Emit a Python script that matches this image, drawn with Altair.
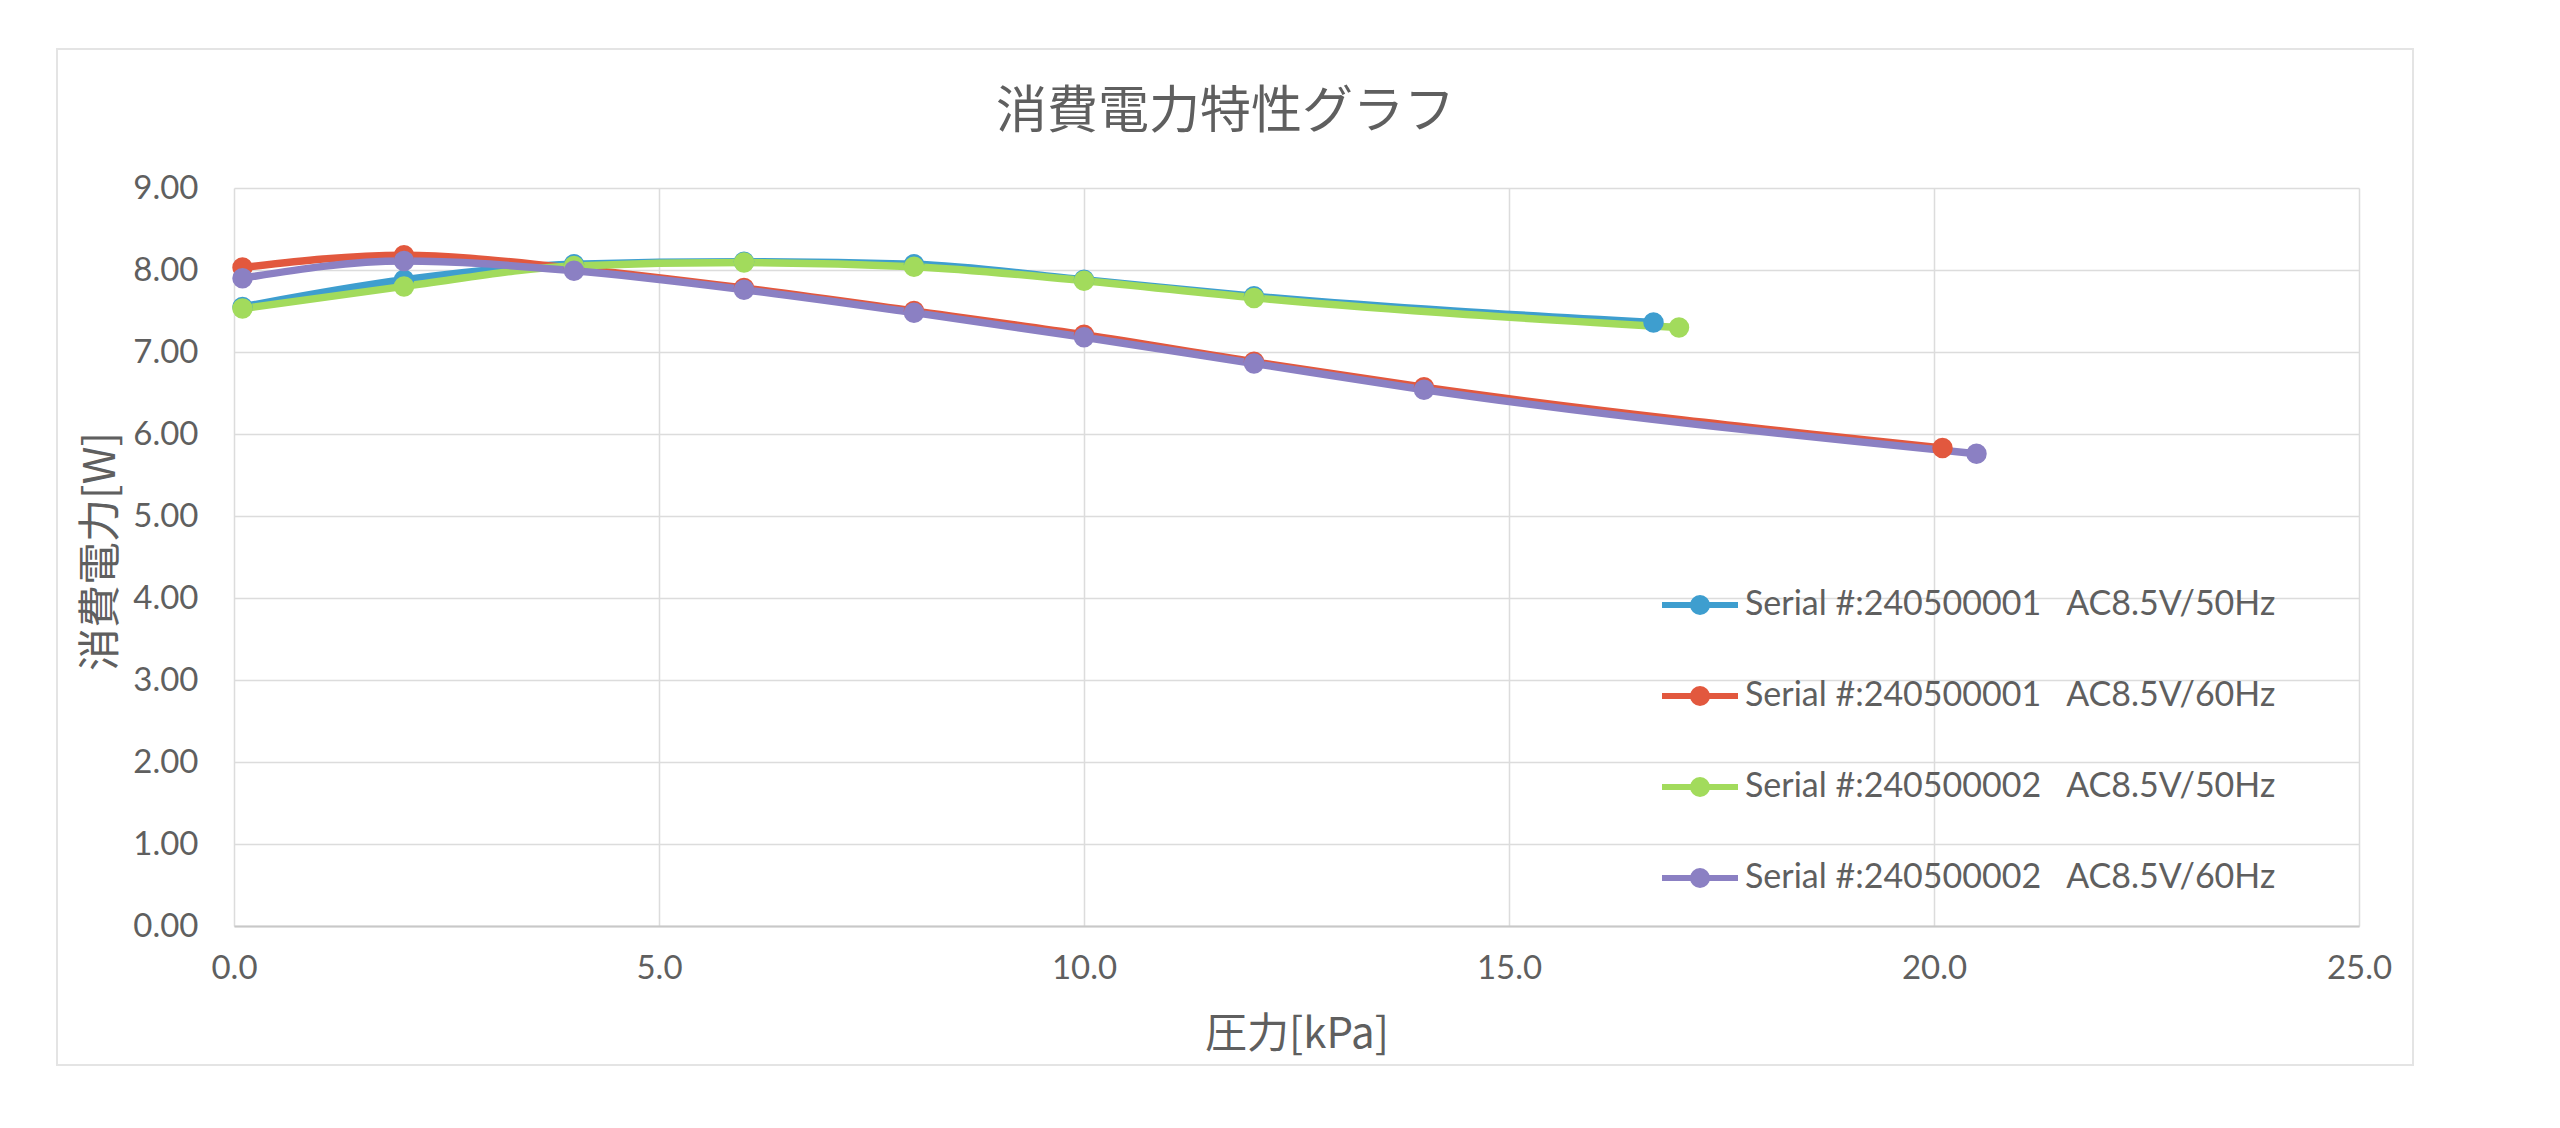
import altair as alt
import pandas as pd

# ---- data ----
series_names = [
    "Serial #:240500001\u00a0\u00a0\u00a0AC8.5V/50Hz",
    "Serial #:240500001\u00a0\u00a0\u00a0AC8.5V/60Hz",
    "Serial #:240500002\u00a0\u00a0\u00a0AC8.5V/50Hz",
    "Serial #:240500002\u00a0\u00a0\u00a0AC8.5V/60Hz",
]
series_colors = ["#3E9ECF", "#E2583E", "#A2DB5C", "#8B80C3"]

blue_x = [0.1, 2, 4, 6, 8, 10, 12, 16.7]
blue_y = [7.55, 7.88, 8.07, 8.10, 8.07, 7.88, 7.68, 7.36]
red_x = [0.1, 2, 4, 6, 8, 10, 12, 14, 20.1]
red_y = [8.03, 8.18, 8.02, 7.78, 7.50, 7.21, 6.88, 6.57, 5.83]
green_x = [0.1, 2, 4, 6, 8, 10, 12, 17.0]
green_y = [7.53, 7.80, 8.05, 8.09, 8.04, 7.87, 7.66, 7.30]
purple_x = [0.1, 2, 4, 6, 8, 10, 12, 14, 20.5]
purple_y = [7.90, 8.11, 7.99, 7.76, 7.48, 7.18, 6.86, 6.54, 5.76]

x_ticks = [0, 5, 10, 15, 20, 25]
y_ticks = [0, 1, 2, 3, 4, 5, 6, 7, 8, 9]

title_text = "消費電力特性グラフ"
x_title = "圧力[kPa]"
y_title = "消費電力[W]"

# ---- table ----
rows = []
for name, xs, ys in zip(series_names, [blue_x, red_x, green_x, purple_x],
                        [blue_y, red_y, green_y, purple_y]):
    for i, (xv, yv) in enumerate(zip(xs, ys)):
        rows.append({"pressure": xv, "power": yv, "series": name, "idx": i})
df = pd.DataFrame(rows)

# ---- layout constants ----
W, H = 2125, 738
PAD_L, PAD_T = 234, 188
GRAY = "#5F5F5F"
CJK = "Noto Sans CJK JP"
NUM = "Lato"

r_units = [7 / 38, 4 / 38, 1 / 38]
circ = " ".join(
    f"M{r:.4f},0A{r:.4f},{r:.4f},0,1,1,{-r:.4f},0A{r:.4f},{r:.4f},0,1,1,{r:.4f},0Z"
    for r in r_units)
legend_path = "M-1,0H1 " + circ

frame = alt.Chart(pd.DataFrame({"a": [0]})).mark_rect(
    fill=None, stroke="#E4E4E4", strokeWidth=2, clip=False
).encode(
    x=alt.value(57 - PAD_L), x2=alt.value(2413 - PAD_L),
    y=alt.value(49 - PAD_T), y2=alt.value(1065 - PAD_T),
)

lines = alt.Chart(df).mark_line(
    strokeWidth=7.5, interpolate="monotone",
    point=alt.OverlayMarkDef(filled=True, size=420, opacity=1),
).encode(
    x=alt.X("pressure:Q",
            scale=alt.Scale(domain=[0, 25], nice=False, zero=False),
            axis=alt.Axis(values=x_ticks, format=".1f", title=x_title,
                          labelFont=NUM, labelFontSize=33, labelColor=GRAY,
                          labelPadding=26, tickSize=0, labelFlush=False,
                          domain=True, domainColor="#C8C8C8", domainWidth=2,
                          grid=True, gridColor="#DCDCDC", gridWidth=1.5,
                          titleFont=CJK, titleFontSize=42, titleFontWeight="normal",
                          titleColor=GRAY, titleX=W / 2, titleY=108,
                          titleBaseline="middle", titleAnchor="middle")),
    y=alt.Y("power:Q",
            scale=alt.Scale(domain=[0, 9], nice=False),
            axis=alt.Axis(values=y_ticks, format=".2f", title=y_title,
                          labelFont=NUM, labelFontSize=33, labelColor=GRAY,
                          labelPadding=36, tickSize=0, domain=False,
                          grid=True, gridColor="#DCDCDC", gridWidth=1.5,
                          titleFont=CJK, titleFontSize=43, titleFontWeight="normal",
                          titleColor=GRAY, titleX=101 - PAD_L, titleY=H / 2 - 6,
                          titleBaseline="middle", titleAnchor="middle")),
    color=alt.Color("series:N",
                    scale=alt.Scale(domain=series_names, range=series_colors),
                    legend=alt.Legend(
                        title=None, orient="none", legendX=1425, legendY=376,
                        symbolType=legend_path, symbolSize=76 * 76,
                        symbolStrokeWidth=6, symbolOpacity=1,
                        labelFont=NUM, labelFontSize=34, labelColor=GRAY,
                        labelOffset=4, rowPadding=31, padding=0,
                        labelLimit=900)),
    order=alt.Order("idx:Q"),
)

chart = alt.layer(frame, lines).properties(
    width=W, height=H,
    title=alt.TitleParams(title_text, font=CJK, fontSize=51, fontWeight="normal",
                          color=GRAY, anchor="middle", dx=-71, dy=121, offset=30),
    autosize=alt.AutoSizeParams(type="none"),
    padding={"left": PAD_L, "top": PAD_T, "right": 2560 - PAD_L - W,
             "bottom": 1128 - PAD_T - H},
    background="white",
).configure_view(stroke=None)

chart.save("out.html", embed_options={"renderer": "svg", "actions": False})
